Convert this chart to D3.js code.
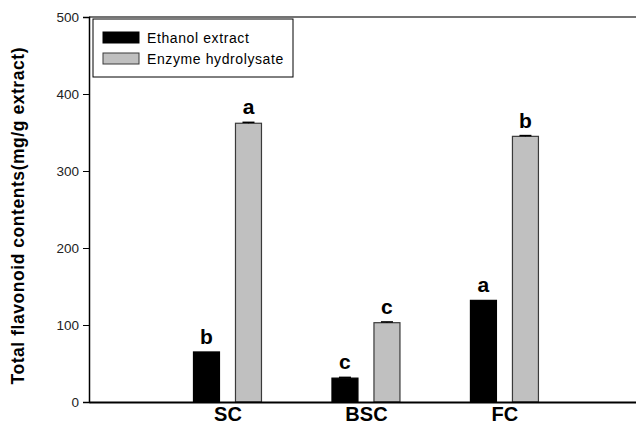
<!DOCTYPE html>
<html>
<head>
<meta charset="utf-8">
<script src="https://cdn.jsdelivr.net/npm/d3@7"></script>
<style>
  body { margin: 0; background: #fff; }
  svg { display: block; }
</style>
</head>
<body>
<svg id="chart" width="636" height="425"></svg>
<script>
// Sample groups and series
const categories = ["SC", "BSC", "FC"];
const seriesNames = ["Ethanol extract", "Enzyme hydrolysate"];
const ethanolValues = [65, 31, 132];
const enzymeValues = [362, 103, 345];
const ethanolErrors = [0, 1, 0];
const enzymeErrors = [1.2, 1, 1];
const ethanolLetters = ["b", "c", "a"];
const enzymeLetters = ["a", "c", "b"];
const yTicks = [0, 100, 200, 300, 400, 500];

const svg = d3.select("#chart");
const plotLeft = 89, plotRight = 636, plotTop = 17, plotBottom = 402;
const font = "Liberation Sans, Arial, sans-serif";

const x = d3.scaleLinear().domain([0, 3.95]).range([plotLeft, plotRight]);
const y = d3.scaleLinear().domain([0, 500]).range([plotBottom, plotTop]);

const barW = 26, offset = 21;
const fills = ["#000000", "#c0c0c0"];
const strokes = ["#000000", "#3a3a3a"];

const series = [
  { values: ethanolValues, errors: ethanolErrors, letters: ethanolLetters, dx: -offset },
  { values: enzymeValues, errors: enzymeErrors, letters: enzymeLetters, dx: offset }
];

// top frame line
svg.append("line")
  .attr("x1", plotLeft).attr("x2", plotRight).attr("y1", plotTop).attr("y2", plotTop)
  .attr("stroke", "#444").attr("stroke-width", 1.5);

// bars, error bars and significance letters
series.forEach((s, si) => {
  const g = svg.append("g");
  categories.forEach((c, i) => {
    const cx = x(i + 1) + s.dx;
    const v = s.values[i];
    g.append("rect")
      .attr("x", cx - barW / 2)
      .attr("y", y(v))
      .attr("width", barW)
      .attr("height", y(0) - y(v))
      .attr("fill", fills[si])
      .attr("stroke", strokes[si])
      .attr("stroke-width", 1.2);
    const e = s.errors[i];
    if (e > 0) {
      g.append("line")
        .attr("x1", cx).attr("x2", cx)
        .attr("y1", y(v)).attr("y2", y(v + e))
        .attr("stroke", "#000").attr("stroke-width", 1.2);
      g.append("line")
        .attr("x1", cx - 6).attr("x2", cx + 6)
        .attr("y1", y(v + e)).attr("y2", y(v + e))
        .attr("stroke", "#000").attr("stroke-width", 1.5);
    }
    g.append("text")
      .attr("x", cx)
      .attr("y", y(v + e) - 8)
      .attr("text-anchor", "middle")
      .attr("font-family", font)
      .attr("font-weight", "bold")
      .attr("font-size", 21)
      .text(s.letters[i]);
  });
});

// y axis
const yAxis = d3.axisLeft(y).tickValues(yTicks).tickSizeOuter(0).tickSize(6).tickPadding(4);
const yg = svg.append("g").attr("transform", `translate(${plotLeft},0)`).call(yAxis);
yg.select(".domain").attr("stroke", "#000").attr("stroke-width", 1.5);
yg.selectAll(".tick line").attr("stroke", "#000");
yg.selectAll(".tick text")
  .attr("font-family", font)
  .attr("font-size", 13.5).attr("fill", "#222");

// x axis baseline and category labels
const xAxis = d3.axisBottom(x).tickValues([1, 2, 3])
  .tickFormat((d) => categories[d - 1]).tickSize(0).tickSizeOuter(0).tickPadding(5);
const xg = svg.append("g").attr("transform", `translate(0,${plotBottom})`).call(xAxis);
xg.select(".domain").attr("stroke", "#000").attr("stroke-width", 2);
xg.selectAll(".tick text")
  .attr("font-family", font)
  .attr("font-weight", "bold")
  .attr("font-size", 20).attr("fill", "#000");

// y axis title
svg.append("text")
  .attr("transform", `translate(24,216) rotate(-90)`)
  .attr("text-anchor", "middle")
  .attr("font-family", font)
  .attr("font-weight", "bold")
  .attr("font-size", 17.5)
  .attr("textLength", 337)
  .attr("lengthAdjust", "spacing")
  .text("Total flavonoid contents(mg/g extract)");

// legend
const lg = svg.append("g");
lg.append("rect")
  .attr("x", 93).attr("y", 19).attr("width", 200).attr("height", 58)
  .attr("fill", "#fff").attr("stroke", "#000").attr("stroke-width", 1);
seriesNames.forEach((name, i) => {
  const yy = 32 + i * 21;
  lg.append("rect")
    .attr("x", 103).attr("y", yy).attr("width", 36).attr("height", 11)
    .attr("fill", fills[i]).attr("stroke", strokes[i]).attr("stroke-width", 1);
  lg.append("text")
    .attr("x", 147).attr("y", yy + 11)
    .attr("font-family", font)
    .attr("font-size", 14)
    .attr("letter-spacing", 0.6)
    .text(name);
});
</script>
</body>
</html>
